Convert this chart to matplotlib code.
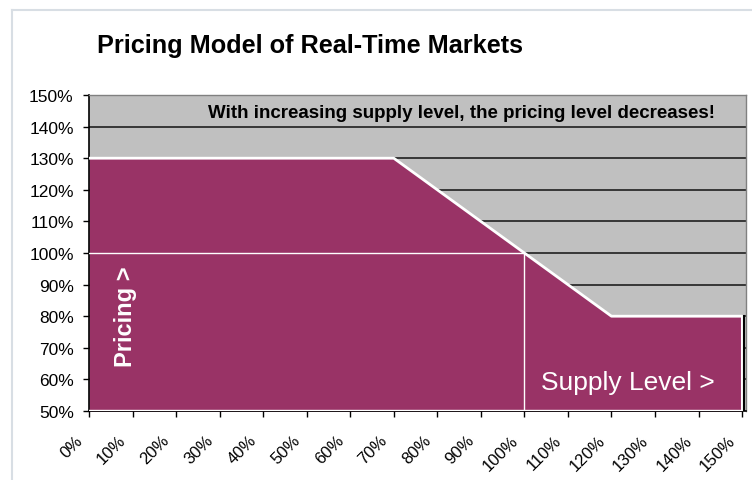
import numpy as np
import matplotlib
matplotlib.use('Agg')
import matplotlib.pyplot as plt
import matplotlib.transforms as mtransforms
from matplotlib.lines import Line2D

# supply level (%) vs pricing level (%)
supply = [0, 10, 20, 30, 40, 50, 60, 70, 80, 90, 100, 110, 120, 130, 140, 150]
pricing = [130, 130, 130, 130, 130, 130, 130, 130, 120, 110, 100, 90, 80, 80, 80, 80]
y_ticks = [50, 60, 70, 80, 90, 100, 110, 120, 130, 140, 150]
ref_supply = 100
ref_price = 100

title = "Pricing Model of Real-Time Markets"
note = "With increasing supply level, the pricing level decreases!"

plt.rcParams['font.family'] = ['Liberation Sans', 'DejaVu Sans']

fig = plt.figure(figsize=(7.52, 4.81), dpi=100)
ax = fig.add_axes([89 / 752, 1 - 412 / 481, 657 / 752, 316 / 481])
ax.set_facecolor('#C0C0C0')

# grid lines behind the area
for y in y_ticks[1:-1]:
    ax.axhline(y, color='#202020', lw=1.2, zorder=1)

ax.fill_between(supply, 50, pricing, color='#993366', lw=0, zorder=2)
ax.plot(supply, pricing, color='white', lw=2, zorder=3, solid_capstyle='butt')
ax.plot([0, 150], [50.3, 50.3], color='white', lw=1, zorder=3)
ax.plot([150, 150], [50, 80], color='white', lw=1.5, zorder=3)
ax.plot([150.35, 150.35], [50, 80], color='black', lw=1.5, zorder=3)

# reference lines at 100% / 100%
ax.plot([0, ref_supply], [ref_price, ref_price], color='white', lw=1, zorder=3)
ax.plot([ref_supply, ref_supply], [50, ref_price], color='white', lw=1, zorder=3)

ax.set_xlim(0, 150.9)
ax.set_ylim(50, 150)
ax.set_xticks(supply)
ax.set_xticklabels([f"{s}%" for s in supply], rotation=45, ha='right', va='center',
                   rotation_mode='anchor', fontsize=12)
ax.set_yticks(y_ticks)
ax.set_yticklabels([f"{y}%" for y in y_ticks], fontsize=12.5)
ax.tick_params(direction='out', length=4, width=1, color='black')
ax.tick_params(axis='y', pad=7)
ax.tick_params(axis='x', pad=15)
shift = mtransforms.ScaledTranslation(-0.09, 0, fig.dpi_scale_trans)
for lbl in ax.get_xticklabels():
    lbl.set_transform(lbl.get_transform() + shift)

for side in ['top', 'right']:
    ax.spines[side].set_color('#808080')
    ax.spines[side].set_linewidth(1)
ax.spines['left'].set_linewidth(1.2)
ax.spines['bottom'].set_linewidth(1.2)

ax.text(85.5, 144.6, note, fontsize=13.5, fontweight='bold', ha='center', va='center', zorder=4)
ax.text(8.3, 80.1, "Pricing >", rotation=90, color='white', fontsize=17,
        fontweight='bold', ha='center', va='center', zorder=4)
ax.text(123.7, 59.2, "Supply Level >", color='white', fontsize=19,
        ha='center', va='center', zorder=4)

fig.text(97 / 752, 1 - 46 / 481, title, fontsize=18.2, fontweight='bold',
         ha='left', va='center')

# light chart border
fig.add_artist(Line2D([12 / 752, 1], [1 - 10.5 / 481, 1 - 10.5 / 481],
                      color='#D8DEE4', lw=1.5, transform=fig.transFigure))
fig.add_artist(Line2D([12 / 752, 12 / 752], [0, 1 - 10.5 / 481],
                      color='#D8DEE4', lw=1.5, transform=fig.transFigure))

fig.savefig('out.png', dpi=100)
